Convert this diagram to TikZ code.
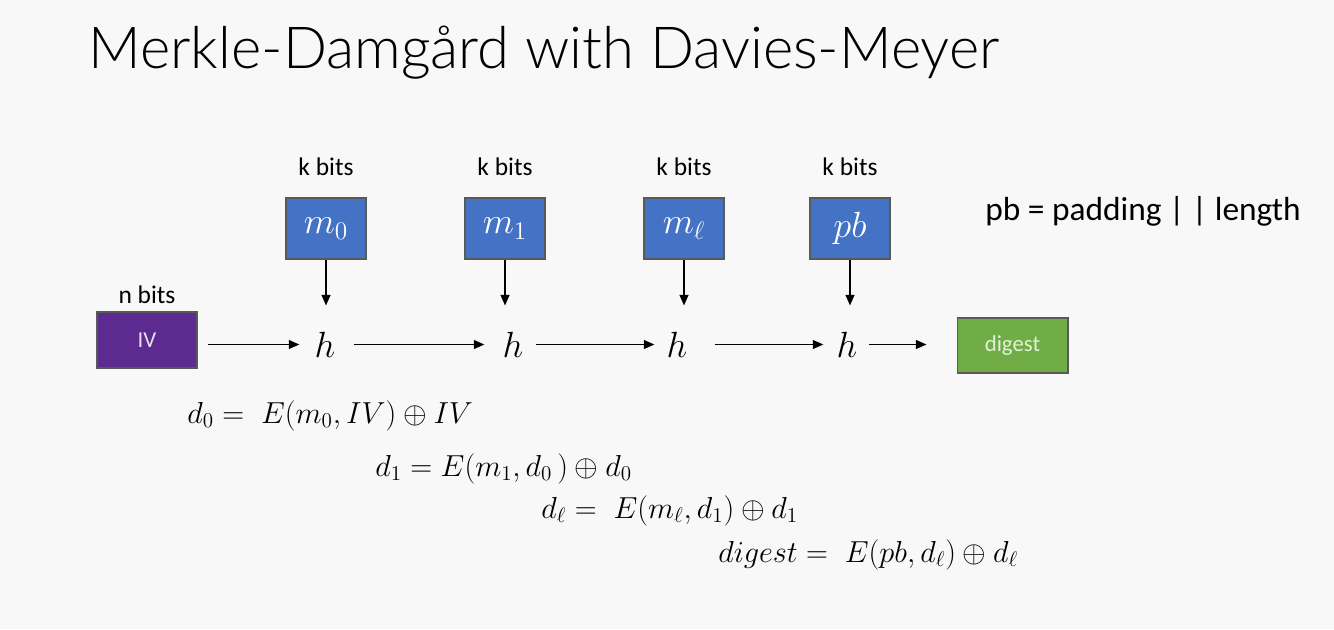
\documentclass[tikz,border=0pt]{standalone}
\usepackage{amsmath}
\usepackage{fontspec}
\setmainfont{Carlito}
\newfontfamily\titlefont{Lato Light}
\usepackage{xcolor}
\usetikzlibrary{arrows.meta, positioning}

\definecolor{slidebg}{RGB}{248,248,248}
\definecolor{ivpurple}{RGB}{92,42,145}
\definecolor{msgblue}{RGB}{68,114,196}
\definecolor{digestgreen}{RGB}{112,173,71}
\definecolor{digesttext}{RGB}{226,240,217}

\begin{document}
\begin{tikzpicture}[
    x=0.02cm, y=-0.02cm,
    >={Triangle[length=6pt,width=5pt]},
    msgbox/.style  = {draw=black!65, line width=0.6pt, fill=msgblue, minimum width=1.6cm, minimum height=1.22cm, inner sep=0pt, text=white, font=\fontsize{22}{26}\selectfont},
    bitlbl/.style  = {inner sep=0pt, font=\fontsize{14.5}{17}\selectfont},
    hfun/.style    = {inner sep=0pt, font=\fontsize{22}{26}\selectfont},
    eqn/.style     = {anchor=base west, inner sep=0pt, font=\fontsize{17}{20}\selectfont},
    flow/.style    = {->, line width=0.9pt}
]
    \fill[slidebg] (0,0) rectangle (1334,629);
    \useasboundingbox (0,0) rectangle (1334,629);

    \node[anchor=base west, inner sep=0pt, font=\titlefont\fontsize{33}{40}\selectfont] (title) at (88,68) {Merkle-Damgård with Davies-Meyer};

    % chaining values
    \node[draw=black!65, line width=0.6pt, fill=ivpurple, minimum width=2cm, minimum height=1.12cm, text=white!85!ivpurple, font=\fontsize{13}{15}\selectfont] (iv) at (147,340) {IV};
    \node[bitlbl, above=0.14cm of iv] (nbits) {n bits};

    \node[hfun] (h1) at (325,344.5) {$h$};
    \node[hfun] (h2) at (513,344.5) {$h$};
    \node[hfun] (h3) at (677,344.5) {$h$};
    \node[hfun] (h4) at (847,344.5) {$h$};

    \node[draw=black!65, line width=0.6pt, fill=digestgreen, minimum width=2.22cm, minimum height=1.1cm, text=digesttext, font=\fontsize{13}{15}\selectfont] (digest) at (1012.5,345.5) {digest};

    % message blocks
    \node[msgbox] (m0) at (326,228.5) {$m_0$};
    \node[msgbox] (m1) at (505,228.5) {$m_1$};
    \node[msgbox] (ml) at (684,228.5) {$m_\ell$};
    \node[msgbox] (pb) at (850,228.5) {$pb$};

    \foreach \blk in {m0, m1, ml, pb}
        \node[bitlbl, above=0.42cm of \blk] {k bits};

    \node[anchor=base, inner sep=0pt, font=\fontsize{19}{23}\selectfont] (pbnote) at (1143,220) {pb = padding | | length};

    % arrows
    \foreach \blk/\hh in {m0/h1, m1/h2, ml/h3, pb/h4}
        \draw[flow, shorten >=0.52cm] (\blk.south) -- (\blk.south |- \hh.north);

    \draw[flow, shorten <=0.2cm, shorten >=0.3cm] (iv.east |- h1.west) -- (h1.west);
    \draw[flow, shorten <=0.36cm, shorten >=0.36cm] (h1.east) -- (h2.west);
    \draw[flow, shorten <=0.24cm, shorten >=0.24cm] (h2.east) -- (h3.west);
    \draw[flow, shorten <=0.54cm, shorten >=0.26cm] (h3.east) -- (h4.west);
    \draw[flow, shorten <=0.22cm, shorten >=0.6cm] (h4.east) -- (digest.west |- h4.east);

    % Davies-Meyer equations
    \node[eqn] (eq0) at (187,423) {$d_0 =\; E(m_0, IV) \oplus IV$};
    \node[eqn] (eq1) at (375,476) {$d_1 = E(m_1, d_0\,) \oplus d_0$};
    \node[eqn] (eql) at (541,518) {$d_\ell =\; E(m_\ell, d_1) \oplus d_1$};
    \node[eqn] (eqd) at (718,562) {$digest =\; E(pb, d_\ell) \oplus d_\ell$};
\end{tikzpicture}
\end{document}
